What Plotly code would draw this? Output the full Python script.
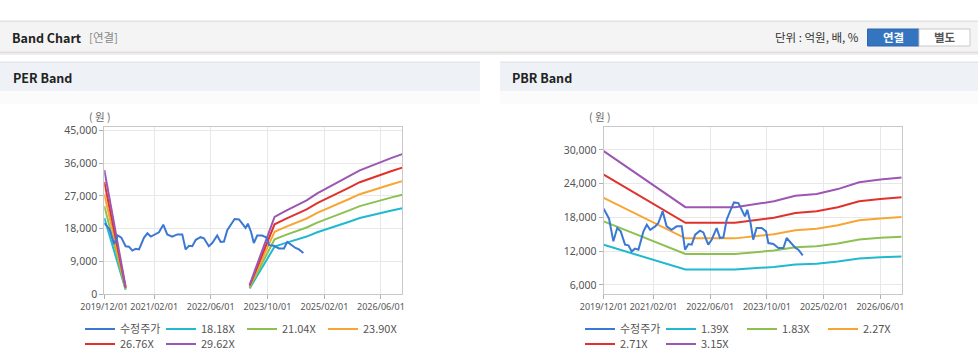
import plotly.graph_objects as go

W, H = 978, 362

# ---------------- data ----------------
price_dates = ['2019-12-01', '2020-01-16', '2020-02-22', '2020-03-26', '2020-04-25', '2020-06-01',
               '2020-06-30', '2020-07-28', '2020-08-26', '2020-09-24', '2020-11-06', '2020-12-05',
               '2021-01-03', '2021-02-15', '2021-03-14', '2021-04-20', '2021-05-24', '2021-07-06',
               '2021-08-18', '2021-09-30', '2021-10-29', '2021-11-27', '2021-12-25', '2022-01-24',
               '2022-03-06', '2022-04-04', '2022-05-16', '2022-06-14', '2022-07-27', '2022-08-25',
               '2022-09-23', '2022-10-21', '2022-11-19', '2022-12-23', '2023-01-30', '2023-02-28',
               '2023-03-27', '2023-04-16', '2023-05-14', '2023-06-06', '2023-07-05', '2023-08-17',
               '2023-09-24', '2023-10-14', '2023-11-26', '2024-01-08', '2024-02-20', '2024-03-19',
               '2024-04-22', '2024-05-29', '2024-06-27', '2024-08-04']
price_values = [19540, 17770, 13750, 16110, 15520, 13160,
                13040, 11970, 12450, 12270, 15520, 16700,
                15810, 16410, 17000, 19070, 16410, 15810,
                16410, 16410, 12270, 13270, 13160, 14930,
                15640, 15340, 13160, 14040, 16110, 14340,
                14460, 17590, 19070, 20660, 20540, 19360,
                18180, 19360, 17000, 14040, 16110, 16110,
                15520, 13450, 13270, 12560, 12560, 14340,
                13450, 12680, 12270, 11270]

eps_dates = ['2019-12-01', '2020-06-01', '2021-06-01', '2023-05-01', '2023-12-01', '2024-03-01',
             '2024-06-01', '2024-09-01', '2024-12-01', '2025-03-01', '2025-06-01', '2025-09-01',
             '2025-12-01', '2026-03-01', '2026-06-01', '2026-09-01', '2026-12-01']
eps_values = [1153, 65, None, 85, 717, 770,
              820, 870, 935, 985, 1040, 1095,
              1150, 1190, 1230, 1265, 1300]
per_multiples = [18.18, 21.04, 23.90, 26.76, 29.62]
per_labels = ['18.18X', '21.04X', '23.90X', '26.76X', '29.62X']

bps_dates = ['2019-12-01', '2021-11-01', '2023-01-01', '2023-06-01', '2023-12-01', '2024-06-01',
             '2024-12-01', '2025-06-01', '2025-12-01', '2026-06-01', '2026-12-01']
bps_values = [9450, 6290, 6290, 6430, 6620, 6930,
              7040, 7310, 7700, 7850, 7960]
pbr_multiples = [1.39, 1.83, 2.27, 2.71, 3.15]
pbr_labels = ['1.39X', '1.83X', '2.27X', '2.71X', '3.15X']

x_tick_dates = ['2019-12-01', '2021-02-01', '2022-06-01', '2023-10-01', '2025-02-01', '2026-06-01']
per_y_ticks = [0, 9000, 18000, 27000, 36000, 45000]
pbr_y_ticks = [6000, 12000, 18000, 24000, 30000]

price_name = '수정주가'
band_colors = ['#20b9cf', '#8cc152', '#f8a633', '#e1312c', '#9c56b3']
price_color = '#3b78d3'

# ---------------- helpers (pixel -> paper) ----------------
def fx(x):
    return x / W

def fy(y):
    return 1 - y / H

fig = go.Figure()

def add_chart(xa, ya, base_dates, base_values, multiples, labels, leg1, leg2):
    for i, (m, lab) in enumerate(zip(multiples, labels)):
        vals = [None if v is None else round(v * m) for v in base_values]
        fig.add_trace(go.Scatter(
            x=base_dates, y=vals, mode='lines', name=lab,
            line=dict(color=band_colors[i], width=2),
            xaxis=xa, yaxis=ya, legend=leg1 if i < 3 else leg2,
            legendrank=i + 2, hoverinfo='skip'))
    fig.add_trace(go.Scatter(
        x=price_dates, y=price_values, mode='lines', name=price_name,
        line=dict(color=price_color, width=2),
        xaxis=xa, yaxis=ya, legend=leg1, legendrank=1, hoverinfo='skip'))

add_chart('x', 'y', eps_dates, eps_values, per_multiples, per_labels, 'legend', 'legend2')
add_chart('x2', 'y2', bps_dates, bps_values, pbr_multiples, pbr_labels, 'legend3', 'legend4')

axis_common = dict(
    showline=True, linecolor='#c8c8c8', linewidth=1, mirror=True,
    showgrid=True, gridcolor='#e8e8e8', gridwidth=1, zeroline=False,
    ticks='outside', ticklen=4, tickcolor='#b0b0b0', automargin=False,
)
xcommon = dict(axis_common, type='date', range=['2019-12-01', '2026-12-01'],
               tickvals=x_tick_dates, tickformat='%Y/%m/%d', tickangle=0,
               tickfont=dict(family='Noto Sans', size=9, color='#555'))

y_top, y_bot = 127.3, 294
fig.update_layout(
    xaxis=dict(xcommon, domain=[fx(104.3), fx(402.3)], anchor='y'),
    yaxis=dict(axis_common, domain=[fy(y_bot), fy(y_top)], anchor='x',
               range=[0, 45900], tickvals=per_y_ticks, tickformat=',d',
               tickfont=dict(family='Noto Sans', size=10.5, color='#555')),
    xaxis2=dict(xcommon, domain=[fx(603.7), fx(901.7)], anchor='y2'),
    yaxis2=dict(axis_common, domain=[fy(y_bot), fy(y_top)], anchor='x2',
                range=[4400, 34000], tickvals=pbr_y_ticks, tickformat=',d',
                tickfont=dict(family='Noto Sans', size=10.5, color='#555')),
)

leg_common = dict(orientation='h', xanchor='left', yanchor='middle',
                  bgcolor='rgba(0,0,0,0)', borderwidth=0,
                  font=dict(family='Noto Sans CJK KR', size=11, color='#555'),
                  itemwidth=30, entrywidthmode='pixels', entrywidth=36,
                  traceorder='normal', itemclick=False, itemdoubleclick=False)
fig.update_layout(
    legend=dict(leg_common, x=fx(80), y=fy(329)),
    legend2=dict(leg_common, x=fx(80), y=fy(344)),
    legend3=dict(leg_common, x=fx(580), y=fy(329)),
    legend4=dict(leg_common, x=fx(580), y=fy(344)),
)

# ---------------- decoration ----------------
shapes = []
def rect(x0, y0, x1, y1, fill, line=None, lw=0):
    shapes.append(dict(type='rect', xref='paper', yref='paper',
                       x0=fx(x0), x1=fx(x1), y0=fy(y1), y1=fy(y0),
                       fillcolor=fill, line=dict(color=line or fill, width=lw),
                       layer='below'))

rect(0, 20.5, W, 22, '#e2e2e2')
rect(0, 22, W, 51.5, '#f4f4f4')
rect(0, 51.5, W, 53, '#dedede')
rect(0, 53, W, 55, '#eeeeee')
for x0, x1 in [(0, 480), (500, W)]:
    rect(x0, 61.5, x1, 63.5, '#e2e5e9')
    rect(x0, 63.5, x1, 91, '#eef2f7')
    rect(x0, 91, x1, 104, '#fbfbfc')
rect(867.5, 29, 919, 46, '#3575c0', '#2c66ad', 1)
rect(919, 29, 970, 46, '#ffffff', '#c8c8c8', 1)
fig.update_layout(shapes=shapes)

ann = []
def text(x, y, s, size=12, color='#222', anchor='left', family='Noto Sans CJK KR'):
    ann.append(dict(xref='paper', yref='paper', x=fx(x), y=fy(y), text=s,
                    showarrow=False, xanchor=anchor, yanchor='middle',
                    font=dict(family=family, size=size, color=color)))

text(10, 37.5, '<b>Band Chart</b>', 12.5, '#222')
text(87, 37.5, '[연결]', 11.5, '#888')
text(861, 37.5, '단위 : 억원, 배, %', 11.5, '#333', 'right')
text(893.2, 37.5, '<b>연결</b>', 11.5, '#ffffff', 'center')
text(944.5, 37.5, '<b>별도</b>', 11.5, '#555', 'center')
text(11, 77.5, '<b>PER Band</b>', 12.5, '#222')
text(510, 77.5, '<b>PBR Band</b>', 12.5, '#222')
text(99, 116.5, '( 원 )', 10.5, '#666', 'center')
text(599, 116.5, '( 원 )', 10.5, '#666', 'center')
fig.update_layout(annotations=ann)

fig.update_layout(
    width=W, height=H, autosize=False,
    margin=dict(l=0, r=0, t=0, b=0, pad=0, autoexpand=False),
    paper_bgcolor='#ffffff', plot_bgcolor='#ffffff',
)

fig.write_html('out.html', config={'displayModeBar': False},
               post_script="document.body.style.margin='0px';document.body.style.overflow='hidden';")
